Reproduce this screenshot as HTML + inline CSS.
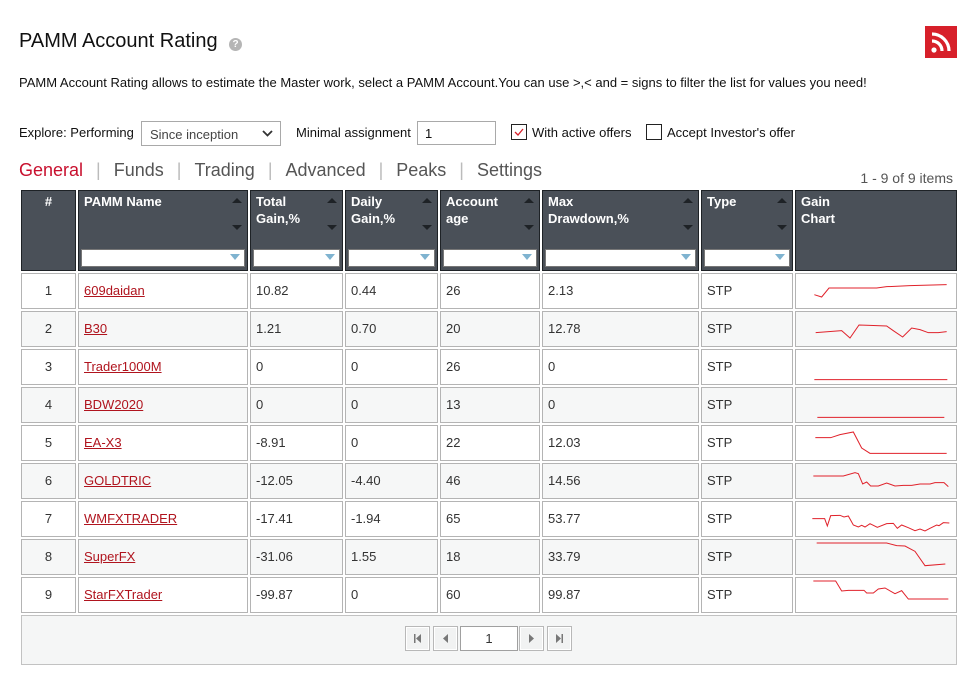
<!DOCTYPE html>
<html><head><meta charset="utf-8">
<style>
*{box-sizing:border-box;margin:0;padding:0}
body{width:970px;height:682px;background:#fff;font-family:"Liberation Sans",Arial,sans-serif;color:#222;position:relative;overflow:hidden}
.a{position:absolute}
.grid{position:absolute;left:21px;top:190px;display:grid;grid-template-columns:55px 170px 93px 93px 100px 157px 92px 162px;grid-auto-rows:36px;grid-template-rows:81px;column-gap:2px;row-gap:2px}
.h{background:#4a5058;border:1px solid #1e2226;color:#fff;font-weight:bold;font-size:13px;line-height:17px;padding:2px 5px;position:relative}
.h .up{position:absolute;right:5px;top:7px;width:0;height:0;border-left:5px solid transparent;border-right:5px solid transparent;border-bottom:5px solid #1e2226}
.h .dn{position:absolute;right:5px;top:34px;width:0;height:0;border-left:5px solid transparent;border-right:5px solid transparent;border-top:5px solid #1e2226}
.h .f{position:absolute;left:2px;right:2px;top:58px;height:18px;background:#fff;border:1px solid #777}
.h .f:after{content:"";position:absolute;right:4px;top:4px;border-left:5px solid transparent;border-right:5px solid transparent;border-top:6px solid #7fb3d0}
.c{border:1px solid #b4b4b4;font-size:13px;color:#333;padding:0 5px;line-height:34px;background:#fff;white-space:nowrap;overflow:hidden}
.e{background:#f6f7f7}
.n{text-align:center}
.c a{color:#b0141e;text-decoration:underline}
.g{padding:0}
.g svg{display:block}
.btn{position:absolute;top:626px;width:25px;height:25px;border:1px solid #b8b8b8;background:#f1f2f2;box-shadow:inset 0 0 0 1px #fff}
.s{color:#bbb;margin:0 13px}
</style></head><body>
<div class="a" style="left:19px;top:30px;font-size:20px;color:#111">PAMM Account Rating</div>
<div class="a" style="left:229px;top:38px;width:13px;height:13px;border-radius:50%;background:#b5b5b5;color:#fff;font-size:10px;font-weight:bold;text-align:center;line-height:13px">?</div>
<div class="a" style="left:925px;top:26px;width:32px;height:32px;background:#d7202a">
<svg width="32" height="32" viewBox="0 0 32 32"><circle cx="9" cy="24" r="2.6" fill="#fff"/><path d="M7 15a10 10 0 0 1 10 10" stroke="#fff" stroke-width="3.2" fill="none"/><path d="M7 8a17 17 0 0 1 17 17" stroke="#fff" stroke-width="3.2" fill="none"/></svg></div>
<div class="a" style="left:19px;top:75px;font-size:13px;color:#111">PAMM Account Rating allows to estimate the Master work, select a PAMM Account.You can use &gt;,&lt; and = signs to filter the list for values you need!</div>

<div class="a" style="left:19px;top:125px;font-size:13px;color:#111">Explore: Performing</div>
<div class="a" style="left:141px;top:121px;width:140px;height:25px;border:1px solid #a9a9a9;font-size:13px;color:#444;padding:5px 8px">Since inception
<svg class="a" style="left:120px;top:8px" width="11" height="8"><path d="M1 1l4.5 4.5L10 1" stroke="#333" stroke-width="1.8" fill="none"/></svg></div>
<div class="a" style="left:296px;top:125px;font-size:13px;color:#111">Minimal assignment</div>
<div class="a" style="left:417px;top:121px;width:79px;height:24px;border:1px solid #a9a9a9;font-size:13px;color:#111;padding:4px 7px">1</div>
<div class="a" style="left:511px;top:124px;width:16px;height:16px;border:1px solid #222;background:#fff">
<svg width="14" height="14"><path d="M3 7l3 3 5-6" stroke="#d7202a" stroke-width="1.3" fill="none"/></svg></div>
<div class="a" style="left:532px;top:125px;font-size:13px;color:#111">With active offers</div>
<div class="a" style="left:646px;top:124px;width:16px;height:16px;border:1px solid #222;background:#fff"></div>
<div class="a" style="left:667px;top:125px;font-size:13px;color:#111">Accept Investor's offer</div>

<div class="a" style="left:19px;top:160px;font-size:18px;color:#555;white-space:nowrap"><span style="color:#c8102e">General</span><span class="s">|</span>Funds<span class="s">|</span>Trading<span class="s">|</span>Advanced<span class="s">|</span>Peaks<span class="s">|</span>Settings</div>
<div class="a" style="right:17px;top:170px;font-size:14px;color:#555">1 - 9 of 9 items</div>

<div class="grid">
<div class="h" style="text-align:center">#</div>
<div class="h">PAMM Name<i class="up"></i><i class="dn"></i><i class="f"></i></div>
<div class="h">Total<br>Gain,%<i class="up"></i><i class="dn"></i><i class="f"></i></div>
<div class="h">Daily<br>Gain,%<i class="up"></i><i class="dn"></i><i class="f"></i></div>
<div class="h">Account<br>age<i class="up"></i><i class="dn"></i><i class="f"></i></div>
<div class="h">Max<br>Drawdown,%<i class="up"></i><i class="dn"></i><i class="f"></i></div>
<div class="h">Type<i class="up"></i><i class="dn"></i><i class="f"></i></div>
<div class="h">Gain<br>Chart</div>

<div class="c n">1</div><div class="c"><a>609daidan</a></div><div class="c">10.82</div><div class="c">0.44</div><div class="c">26</div><div class="c">2.13</div><div class="c">STP</div>
<div class="c g"><svg width="160" height="34" viewBox="18 13 480 102"><polyline fill="none" stroke="#e0222b" stroke-width="1" vector-effect="non-scaling-stroke" points="73,75 95,82 117,55 260,55 290,51 360,48 470,45"/></svg></div>

<div class="c n e">2</div><div class="c e"><a>B30</a></div><div class="c e">1.21</div><div class="c e">0.70</div><div class="c e">20</div><div class="c e">12.78</div><div class="c e">STP</div>
<div class="c g e"><svg width="160" height="34" viewBox="18 127 480 102"><polyline fill="none" stroke="#e0222b" stroke-width="1" vector-effect="non-scaling-stroke" points="77,189 155,183 180,205 207,166 240,167 290,169 310,183 338,202 365,175 390,180 415,189 445,189 470,186"/></svg></div>

<div class="c n">3</div><div class="c"><a>Trader1000M</a></div><div class="c">0</div><div class="c">0</div><div class="c">26</div><div class="c">0</div><div class="c">STP</div>
<div class="c g"><svg width="160" height="34" viewBox="18 241 480 102"><polyline fill="none" stroke="#e0222b" stroke-width="1" vector-effect="non-scaling-stroke" points="73,330 472,330"/></svg></div>

<div class="c n e">4</div><div class="c e"><a>BDW2020</a></div><div class="c e">0</div><div class="c e">0</div><div class="c e">13</div><div class="c e">0</div><div class="c e">STP</div>
<div class="c g e"><svg width="160" height="34" viewBox="18 355 480 102"><polyline fill="none" stroke="#e0222b" stroke-width="1" vector-effect="non-scaling-stroke" points="82,443 463,443"/></svg></div>

<div class="c n">5</div><div class="c"><a>EA-X3</a></div><div class="c">-8.91</div><div class="c">0</div><div class="c">22</div><div class="c">12.03</div><div class="c">STP</div>
<div class="c g"><svg width="160" height="34" viewBox="18 469 480 102"><polyline fill="none" stroke="#e0222b" stroke-width="1" vector-effect="non-scaling-stroke" points="76,504 122,504 150,495 190,487 215,535 240,551 470,551"/></svg></div>

<div class="c n e">6</div><div class="c e"><a>GOLDTRIC</a></div><div class="c e">-12.05</div><div class="c e">-4.40</div><div class="c e">46</div><div class="c e">14.56</div><div class="c e">STP</div>
<div class="c g e"><svg width="160" height="34" viewBox="18 583 480 102"><polyline fill="none" stroke="#e0222b" stroke-width="1" vector-effect="non-scaling-stroke" points="70,619 160,619 195,609 205,612 218,643 230,637 242,649 265,649 290,640 315,649 340,647 365,647 390,643 420,643 435,639 462,639 475,651"/></svg></div>

<div class="c n">7</div><div class="c"><a>WMFXTRADER</a></div><div class="c">-17.41</div><div class="c">-1.94</div><div class="c">65</div><div class="c">53.77</div><div class="c">STP</div>
<div class="c g"><svg width="160" height="34" viewBox="18 697 480 102"><polyline fill="none" stroke="#e0222b" stroke-width="1" vector-effect="non-scaling-stroke" points="67,747 104,747 112,769 122,738 150,737 162,742 175,739 190,766 205,772 215,767 225,772 240,762 262,773 290,762 310,761 322,776 335,766 355,774 375,783 390,778 405,784 420,776 440,766 447,768 460,759 478,760"/></svg></div>

<div class="c n e">8</div><div class="c e"><a>SuperFX</a></div><div class="c e">-31.06</div><div class="c e">1.55</div><div class="c e">18</div><div class="c e">33.79</div><div class="c e">STP</div>
<div class="c g e"><svg width="160" height="34" viewBox="18 811 480 102"><polyline fill="none" stroke="#e0222b" stroke-width="1" vector-effect="non-scaling-stroke" points="80,820 290,820 320,828 345,829 375,845 405,888 466,883"/></svg></div>

<div class="c n">9</div><div class="c"><a>StarFXTrader</a></div><div class="c">-99.87</div><div class="c">0</div><div class="c">60</div><div class="c">99.87</div><div class="c">STP</div>
<div class="c g"><svg width="160" height="34" viewBox="18 925 480 102"><polyline fill="none" stroke="#e0222b" stroke-width="1" vector-effect="non-scaling-stroke" points="70,934 137,934 155,964 175,962 222,962 230,970 250,970 265,958 285,955 315,972 335,963 355,988 475,988"/></svg></div>
</div>

<div class="a" style="left:21px;top:615px;width:936px;height:50px;background:#f5f6f6;border:1px solid #c2c2c2"></div>
<div class="btn" style="left:405px"><svg width="23" height="23"><rect x="8" y="7" width="1.5" height="9" fill="#777"/><path d="M15 7v9l-5-4.5z" fill="#777"/></svg></div>
<div class="btn" style="left:433px"><svg width="23" height="23"><path d="M14 7v9l-5-4.5z" fill="#777"/></svg></div>
<div class="a" style="left:460px;top:626px;width:58px;height:25px;border:1px solid #a0a0a0;background:#fff;font-size:13px;text-align:center;line-height:23px;color:#333">1</div>
<div class="btn" style="left:519px"><svg width="23" height="23"><path d="M9 7v9l5-4.5z" fill="#777"/></svg></div>
<div class="btn" style="left:547px"><svg width="23" height="23"><path d="M8 7v9l5-4.5z" fill="#777"/><rect x="13.5" y="7" width="1.5" height="9" fill="#777"/></svg></div>
</body></html>
